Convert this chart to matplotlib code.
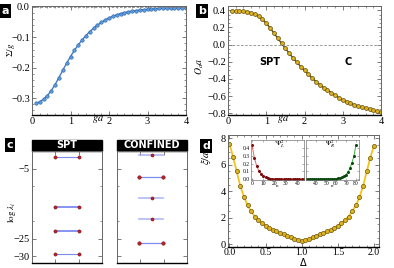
import matplotlib.pyplot as plt
from matplotlib import patches
from matplotlib.ticker import MultipleLocator

plt.rcParams['font.family'] = ['Liberation Serif', 'DejaVu Serif']
plt.rcParams['font.size'] = 7.5
plt.rcParams['mathtext.fontset'] = 'stix'

# ---- data ----
ga = [0.1, 0.2, 0.3, 0.4, 0.5, 0.6, 0.7, 0.8, 0.9, 1.0,
      1.1, 1.2, 1.3, 1.4, 1.5, 1.6, 1.7, 1.8, 1.9, 2.0,
      2.1, 2.2, 2.3, 2.4, 2.5, 2.6, 2.7, 2.8, 2.9, 3.0,
      3.1, 3.2, 3.3, 3.4, 3.5, 3.6, 3.7, 3.8, 3.9, 4.0]
sigma = [-0.317, -0.312, -0.303, -0.291, -0.275, -0.255, -0.232, -0.208, -0.185, -0.163,
         -0.143, -0.125, -0.109, -0.094, -0.081, -0.070, -0.060, -0.051, -0.043, -0.036,
         -0.031, -0.026, -0.022, -0.019, -0.016, -0.014, -0.012, -0.010, -0.009, -0.008,
         -0.007, -0.006, -0.005, -0.0045, -0.004, -0.0035, -0.003, -0.0026, -0.0023, -0.002]
order = [0.390, 0.390, 0.389, 0.387, 0.382, 0.372, 0.355, 0.330, 0.295, 0.250,
         0.195, 0.135, 0.075, 0.015, -0.045, -0.100, -0.155, -0.205, -0.255, -0.300,
         -0.345, -0.390, -0.430, -0.465, -0.500, -0.530, -0.560, -0.590, -0.620, -0.645,
         -0.665, -0.685, -0.700, -0.715, -0.730, -0.743, -0.755, -0.767, -0.778, -0.790]

spt_levels = [-1.7, -16.0, -22.9, -29.4]
conf_pair_levels = [-7.4, -26.3]
conf_single_levels = [-1.1, -13.4, -19.4]

delta = [0.00, 0.05, 0.10, 0.15, 0.20, 0.25, 0.30, 0.35, 0.40, 0.45,
         0.50, 0.55, 0.60, 0.65, 0.70, 0.75, 0.80, 0.85, 0.90, 0.95,
         1.00, 1.05, 1.10, 1.15, 1.20, 1.25, 1.30, 1.35, 1.40, 1.45,
         1.50, 1.55, 1.60, 1.65, 1.70, 1.75, 1.80, 1.85, 1.90, 1.95, 2.00]
xi = [7.60, 6.60, 5.50, 4.40, 3.60, 2.95, 2.50, 2.10, 1.85, 1.60,
      1.42, 1.25, 1.10, 0.97, 0.85, 0.75, 0.63, 0.52, 0.42, 0.32,
      0.24, 0.32, 0.42, 0.52, 0.63, 0.75, 0.86, 0.98, 1.10, 1.25,
      1.42, 1.60, 1.85, 2.10, 2.50, 2.95, 3.55, 4.40, 5.50, 6.55, 7.45]

n_left = [0, 2, 4, 6, 8, 10, 12, 14, 16, 18, 20, 22, 24, 26, 28, 30,
          32, 34, 36, 38, 40, 42, 44, 46]
psi_left = [0.43, 0.27, 0.17, 0.105, 0.065, 0.04, 0.025, 0.015, 0.009, 0.006,
            0.004, 0.003, 0.002, 0.002, 0.001, 0.001, 0.001, 0.001, 0.001, 0.001,
            0.001, 0.001, 0.001, 0.001]
n_right = [30, 32, 34, 36, 38, 40, 42, 44, 46, 48, 50, 52, 54, 56, 58,
           60, 62, 64, 66, 68, 70, 72, 74, 76, 78, 80]
psi_right = [0.001, 0.001, 0.001, 0.001, 0.001, 0.001, 0.001, 0.001, 0.001, 0.002,
             0.002, 0.002, 0.003, 0.004, 0.005, 0.007, 0.01, 0.015, 0.025, 0.04,
             0.06, 0.09, 0.14, 0.21, 0.30, 0.44]

W, H = 394, 268


def box(l, t, r, b):
    return [l / W, 1 - b / H, (r - l) / W, (b - t) / H]


def frame(ax):
    for s in ax.spines.values():
        s.set_color('#666666')
        s.set_linewidth(0.7)
    ax.spines['bottom'].set_color('black')
    ax.spines['bottom'].set_linewidth(1.0)
    ax.tick_params(which='both', direction='in', top=True, right=True,
                   color='#666666', pad=1.5)
    ax.tick_params(which='major', length=3, width=0.6)
    ax.tick_params(which='minor', length=1.6, width=0.5)


def panel_label(x, y, s):
    fig.text(x / W, 1 - y / H, s, color='white', weight='bold', fontsize=8,
             family='DejaVu Sans', ha='center', va='center',
             bbox=dict(facecolor='black', edgecolor='none', pad=1.3))


fig = plt.figure(figsize=(3.94, 2.68), dpi=100)

# ---- a ----
axa = fig.add_axes(box(32, 6, 186, 115))
axa.plot(ga, sigma, '-', color='#3f7fc8', lw=1.0)
axa.plot(ga, sigma, 'o', ms=2.5, mfc='#5b9be0', mec='#2a5f9e', mew=0.4)
axa.axhline(0, color='#888888', ls='--', lw=0.6, dashes=(3, 2))
axa.set_xlim(0, 4)
axa.set_ylim(-0.355, 0.003)
axa.xaxis.set_major_locator(MultipleLocator(1))
axa.xaxis.set_minor_locator(MultipleLocator(0.2))
axa.yaxis.set_major_locator(MultipleLocator(0.1))
axa.yaxis.set_minor_locator(MultipleLocator(0.02))
axa.set_yticks([0.0, -0.1, -0.2, -0.3])
axa.set_yticklabels(['0.0', '\u22120.1', '\u22120.2', '\u22120.3'])
axa.set_ylabel(r'$\Sigma/g$', fontsize=6.5)
axa.yaxis.set_label_coords(-0.1, 0.6)
axa.text(1.72, -0.045, r'$ga$', transform=axa.get_xaxis_transform(),
         ha='center', va='center', fontsize=7.5)
frame(axa)
panel_label(5, 11, 'a')

# ---- b ----
axb = fig.add_axes(box(228, 6, 381, 115))
axb.plot(ga, order, '-', color='#5e4a08', lw=1.0)
axb.plot(ga, order, 'o', ms=2.8, mfc='#e0b31c', mec='#5e4a08', mew=0.5)
axb.axhline(0, color='#888888', ls='--', lw=0.6, dashes=(3, 2))
axb.set_xlim(0, 4)
axb.set_ylim(-0.82, 0.45)
axb.xaxis.set_major_locator(MultipleLocator(1))
axb.xaxis.set_minor_locator(MultipleLocator(0.2))
axb.yaxis.set_major_locator(MultipleLocator(0.2))
axb.yaxis.set_minor_locator(MultipleLocator(0.05))
yt = [0.4, 0.2, 0.0, -0.2, -0.4, -0.6, -0.8]
axb.set_yticks(yt)
axb.set_yticklabels([('%.1f' % v).replace('-', '\u2212') for v in yt])
axb.set_ylabel(r'$O_a a$', fontsize=7)
axb.yaxis.set_label_coords(-0.145, 0.45)
axb.text(1.45, -0.045, r'$ga$', transform=axb.get_xaxis_transform(),
         ha='center', va='center', fontsize=7.5)
axb.text(1.1, -0.2, 'SPT', weight='bold', family='DejaVu Sans', fontsize=7,
         ha='center', va='center')
axb.text(3.15, -0.2, 'C', weight='bold', family='DejaVu Sans', fontsize=7,
         ha='center', va='center')
frame(axb)
panel_label(202, 11, 'b')

# ---- c ----
xl, xr, xm = 1 / 3, 2 / 3, 0.5
axs = fig.add_axes(box(32, 151, 102, 263))
axc = fig.add_axes(box(117, 151, 187, 263))
for lev in spt_levels:
    axs.plot([xl, xr], [lev, lev], color='#5a6ee8', lw=1.3 if lev in (-16.0, -22.9) else 0.8, alpha=0.8)
    axs.plot([xl, xr], [lev, lev], 'o', ms=2.3, mfc='#c0202a', mec='#7a1010', mew=0.4)
for lev in conf_pair_levels:
    axc.plot([0.31, 0.66], [lev, lev], color='#5a6ee8', lw=0.9, alpha=0.8)
    axc.plot([0.31, 0.66], [lev, lev], 'o', ms=2.5, mfc='#c0202a', mec='#7a1010', mew=0.4)
for lev in conf_single_levels:
    axc.plot([0.31, 0.66], [lev, lev], color='#8f9cf0', lw=1.2, alpha=0.7)
    axc.plot([xm], [lev], 'o', ms=2.2, mfc='#c0202a', mec='#7a1010', mew=0.4)
for ax, title in ((axs, 'SPT'), (axc, 'CONFINED')):
    ax.set_xlim(0, 1)
    ax.set_ylim(-32, 0)
    ax.set_xticks([xl, xr])
    ax.set_xticklabels([])
    ax.set_yticks([-5, -25, -30])
    ax.set_yticks([-10, -20], minor=True)
    frame(ax)
    ax.add_patch(patches.Rectangle((0, 1), 1, 0.1, transform=ax.transAxes,
                                   clip_on=False, facecolor='black', edgecolor='black'))
    ax.text(0.5, 1.05, title, transform=ax.transAxes, color='white', weight='bold',
            family='DejaVu Sans', fontsize=7, ha='center', va='center')
axs.set_yticklabels(['\u22125', '\u221225', '\u221230'])
axc.set_yticklabels([])
axs.set_ylabel(r'$\log\,\lambda_i$', labelpad=0, fontsize=6.5)
axs.yaxis.set_label_coords(-0.2, 0.45)
panel_label(10, 145, 'c')

# ---- d ----
axd = fig.add_axes(box(228, 135, 379, 247))
axd.plot(delta, xi, '-', color='#f5c21a', lw=1.3)
axd.plot(delta, xi, 'o', ms=3.0, mfc='#e0b31c', mec='#6b560c', mew=0.5)
axd.set_xlim(-0.02, 2.07)
axd.set_ylim(-0.2, 8.25)
axd.set_xticks([0.0, 0.5, 1.0, 1.5, 2.0])
axd.xaxis.set_minor_locator(MultipleLocator(0.1))
axd.set_yticks([0, 2, 4, 6, 8])
axd.yaxis.set_minor_locator(MultipleLocator(0.5))
axd.set_ylabel(r'$\xi/a$', labelpad=1)
axd.yaxis.set_label_coords(-0.1, 0.8)
frame(axd)
axd.tick_params(axis='x', labelsize=7, pad=0.8)
fig.text(303 / W, 0.0, '\u0394', fontsize=7, family='DejaVu Sans',
         ha='center', va='bottom')
panel_label(206, 146, 'd')

# insets
ax1 = fig.add_axes(box(251, 140, 304, 180))
ax1.plot(n_left, psi_left, '-', color='#f06060', lw=0.7)
ax1.plot(n_left, psi_left, 'o', ms=1.2, color='#7a0c0c')
ax1.set_xlim(-1, 46)
ax1.set_ylim(-0.01, 0.5)
ax1.set_xticks([0, 10, 20, 30, 40])
ax1.set_yticks([0.0, 0.1, 0.2, 0.3, 0.4])
ax1.text(0.55, 0.9, r'$\Psi_L^2$', transform=ax1.transAxes, fontsize=5, ha='center', va='center')
ax1.set_xlabel('n', fontsize=3.5, labelpad=-1.5)

ax2 = fig.add_axes(box(306, 140, 359, 180))
ax2.plot(n_right, psi_right, '-', color='#40b040', lw=0.7)
ax2.plot(n_right, psi_right, 'o', ms=1.2, color='#0c4a12')
ax2.set_xlim(30, 83)
ax2.set_ylim(-0.01, 0.5)
ax2.set_xticks([40, 50, 60, 70, 80])
ax2.set_yticks([0.0, 0.1, 0.2, 0.3, 0.4])
ax2.set_yticklabels([])
ax2.text(0.45, 0.9, r'$\Psi_R^2$', transform=ax2.transAxes, fontsize=5, ha='center', va='center')
ax2.set_xlabel('n', fontsize=3.5, labelpad=-1.5)
for ax in (ax1, ax2):
    for s in ax.spines.values():
        s.set_color('#777777')
        s.set_linewidth(0.5)
    ax.set_facecolor('white')
    ax.tick_params(direction='in', length=1.2, width=0.4, labelsize=4, pad=0.8,
                   top=True, right=True, color='#777777')

fig.savefig('out.png', dpi=100)
